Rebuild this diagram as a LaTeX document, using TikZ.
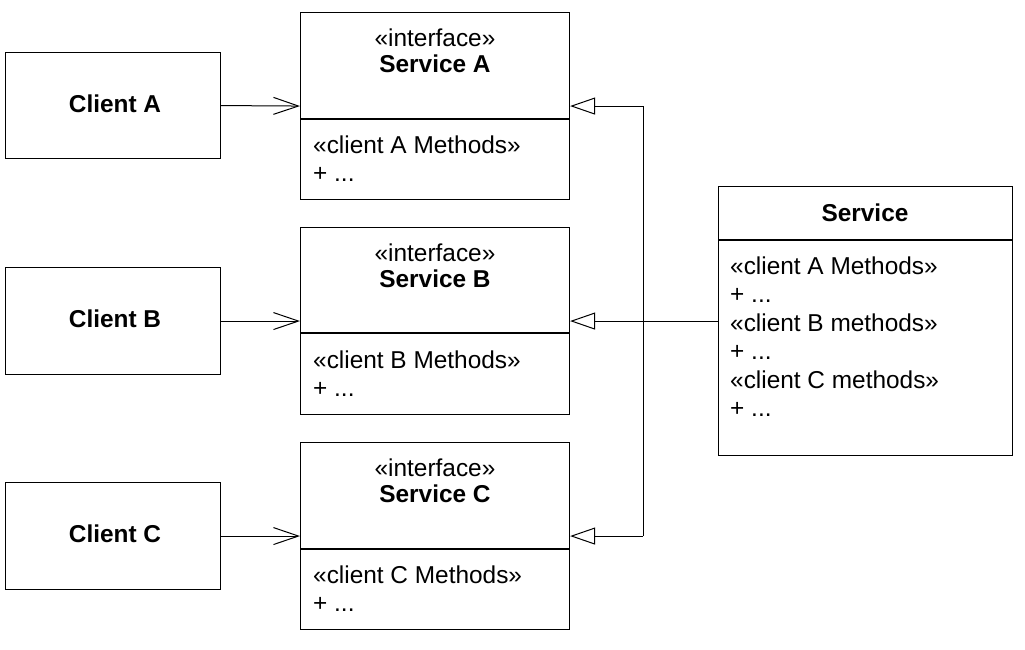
\documentclass[tikz,border=0pt]{standalone}
\usepackage{fontspec}
\setmainfont{Liberation Sans}
\usetikzlibrary{arrows.meta}
\begin{document}
\begin{tikzpicture}[x=1pt,y=-1pt,
  box/.style={draw=black, line width=1.1pt, minimum width=#1, inner sep=0pt, anchor=north west},
  txt/.style={inner sep=0pt, font=\fontsize{24.4}{28.6}\selectfont},
  btxt/.style={inner sep=0pt, font=\fontsize{24.4}{28.6}\selectfont\bfseries},
  link/.style={line width=1pt, -{Straight Barb[length=25pt,width=17pt,line width=1pt]}},
  real/.style={line width=1pt, -{Triangle[open,length=25pt,width=17pt,line width=1pt,fill=white]}},
  plain/.style={line width=1pt}]
\useasboundingbox (0,0) rectangle (1025,649);
% clients
\node[box=215pt, minimum height=106pt] (cA) at (5,52) {};
\node[box=215pt, minimum height=107pt] (cB) at (5,267) {};
\node[box=215pt, minimum height=107pt] (cC) at (5,482) {};
\node[btxt, anchor=base] (cAt) at (115,112) {Client A};
\node[btxt, anchor=base] (cBt) at (115,327) {Client B};
\node[btxt, anchor=base] (cCt) at (115,542) {Client C};
% interfaces
\node[box=269pt, minimum height=187pt] (sA) at (300,12) {};
\node[box=269pt, minimum height=187pt] (sB) at (300,227) {};
\node[box=269pt, minimum height=187pt] (sC) at (300,442) {};
\draw[line width=1.1pt] (300,119) -- (569,119);
\draw[line width=1.1pt] (300,333) -- (569,333);
\draw[line width=1.1pt] (300,549) -- (569,549);
\node[txt, anchor=base] (sAs) at (435,46) {«interface»};
\node[btxt, anchor=base] (sAn) at (435,72) {Service A};
\node[txt, anchor=base west] (sAm) at (313,153) {«client A Methods»};
\node[txt, anchor=base west] (sAp) at (313,181) {+ ...};
\node[txt, anchor=base] (sBs) at (435,261) {«interface»};
\node[btxt, anchor=base] (sBn) at (435,287) {Service B};
\node[txt, anchor=base west] (sBm) at (313,368) {«client B Methods»};
\node[txt, anchor=base west] (sBp) at (313,396) {+ ...};
\node[txt, anchor=base] (sCs) at (435,476) {«interface»};
\node[btxt, anchor=base] (sCn) at (435,502) {Service C};
\node[txt, anchor=base west] (sCm) at (313,583) {«client C Methods»};
\node[txt, anchor=base west] (sCp) at (313,611) {+ ...};
% service
\node[box=294pt, minimum height=269pt] (srv) at (718,186) {};
\draw[line width=1.1pt] (718,240) -- (1012,240);
\node[btxt, anchor=base] (srvn) at (865,221) {Service};
\node[txt, anchor=base west] (m1) at (730,274) {«client A Methods»};
\node[txt, anchor=base west] (m2) at (730,302) {+ ...};
\node[txt, anchor=base west] (m3) at (730,331) {«client B methods»};
\node[txt, anchor=base west] (m4) at (730,359) {+ ...};
\node[txt, anchor=base west] (m5) at (730,388) {«client C methods»};
\node[txt, anchor=base west] (m6) at (730,416) {+ ...};
% connectors
\draw[link] (cA.east) -- (sA.west);
\draw[link] (cB.east) -- (sB.west);
\draw[link] (cC.east) -- (sC.west);
\coordinate (trunk) at (643,320);
\draw[plain] (sA.east -| trunk) -- (sC.east -| trunk);
\draw[real] (srv.west |- sB.east) -- (sB.east);
\draw[real] (sA.east -| trunk) -- (sA.east);
\draw[real] (sC.east -| trunk) -- (sC.east);
\end{tikzpicture}
\end{document}
